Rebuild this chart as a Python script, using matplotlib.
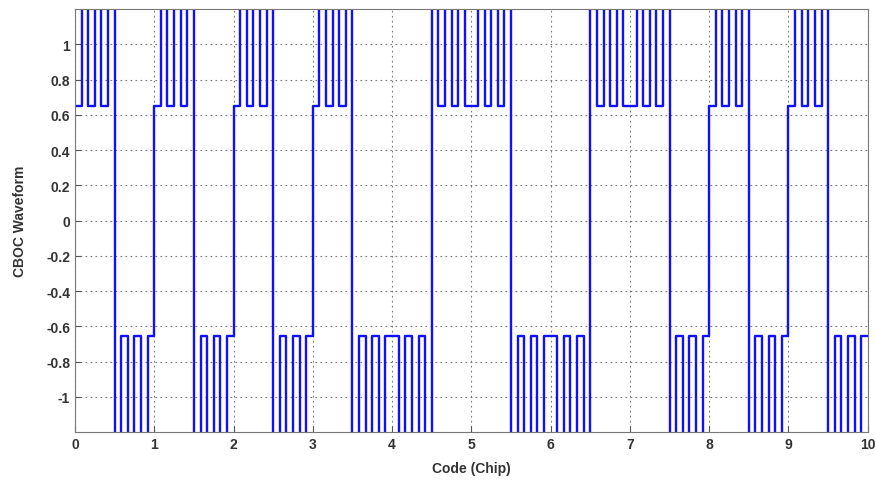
import numpy as np
import matplotlib
matplotlib.use("Agg")
import matplotlib.pyplot as plt

plt.rcParams.update({"font.family": ["Liberation Sans", "DejaVu Sans"], "font.size": 10})

# chip signs of the code (10 chips)
chips = [1, 1, 1, 1, -1, 1, -1, 1, 1, 1]
# levels of the 12 sub-chips inside one chip (CBOC shape)
sub_levels = [0.652, 1.255, 0.652, 1.255, 0.652, 1.255,
              -1.255, -0.652, -1.255, -0.652, -1.255, -0.652]
xticks = list(range(11))
yticks = [-1, -0.8, -0.6, -0.4, -0.2, 0, 0.2, 0.4, 0.6, 0.8, 1]
ytick_labels = ["-1", "-0.8", "-0.6", "-0.4", "-0.2", "0", "0.2", "0.4", "0.6", "0.8", "1"]

n_sub = len(sub_levels)
wave = np.concatenate([c * np.array(sub_levels) for c in chips])
t = np.arange(len(wave) + 1) / n_sub
wave = np.append(wave, wave[-1])

fig = plt.figure(figsize=(8.76, 4.85), dpi=100)
ax = fig.add_axes([0.0856, 0.107, 0.905, 0.872])
ax.plot(t, wave, drawstyle="steps-post", color="#1010ff", lw=1.7)

ax.set_xlim(0, 10)
ax.set_ylim(-1.2, 1.2)
ax.set_xticks(xticks)
ax.set_xticklabels([str(v) for v in xticks], fontweight="bold", color="#333333")
ax.set_yticks(yticks)
ax.set_yticklabels(ytick_labels, fontweight="bold", color="#333333")
ax.tick_params(direction="in", length=4, color="#555555")
ax.grid(True, linestyle=(0, (1.5, 3)), color="#777777", lw=0.8)
for s in ax.spines.values():
    s.set_color("#777777")
ax.set_xlabel("Code (Chip)", fontweight="bold", color="#333333", labelpad=7)
ax.set_ylabel("CBOC Waveform", fontweight="bold", color="#333333", labelpad=14)

fig.savefig("out.png", dpi=100)
